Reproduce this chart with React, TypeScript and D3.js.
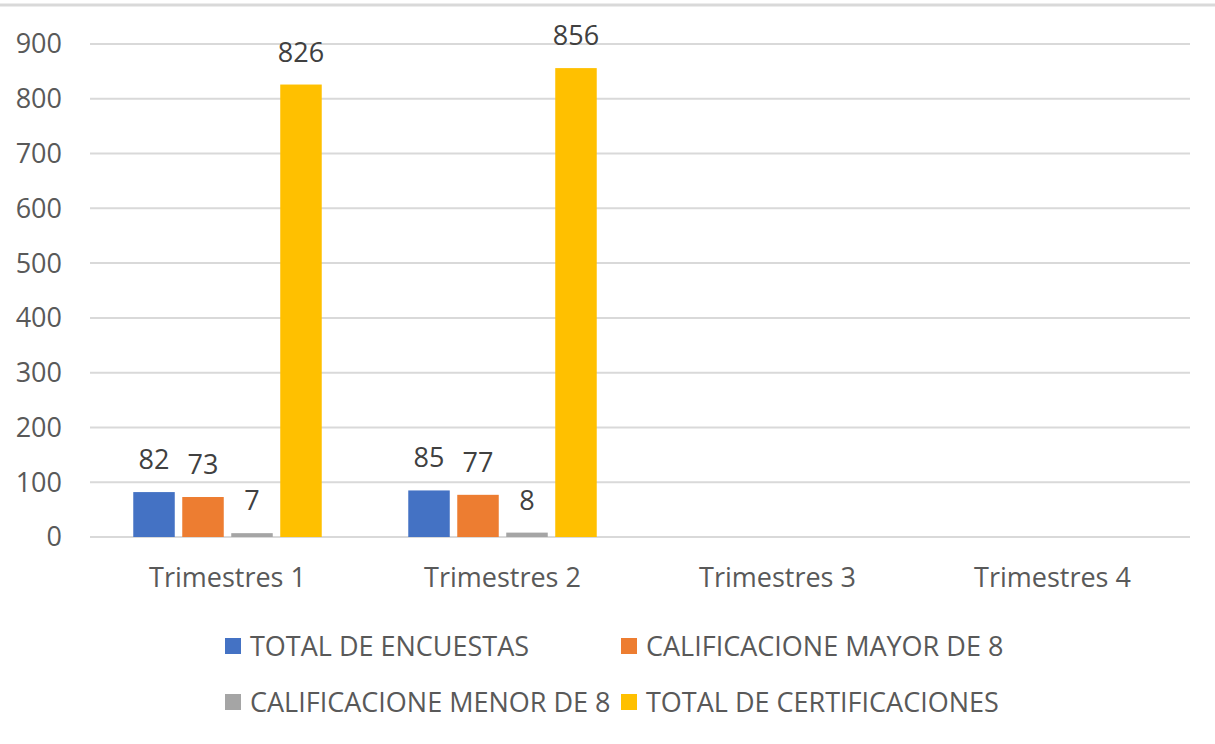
import React from "react";
import * as d3 from "d3";

const categories = ["Trimestres 1", "Trimestres 2", "Trimestres 3", "Trimestres 4"];
const seriesNames = [
  "TOTAL DE ENCUESTAS",
  "CALIFICACIONE MAYOR DE 8",
  "CALIFICACIONE MENOR DE 8",
  "TOTAL DE CERTIFICACIONES",
];
const totalEncuestas: (number | null)[] = [82, 85, null, null];
const mayorDe8: (number | null)[] = [73, 77, null, null];
const menorDe8: (number | null)[] = [7, 8, null, null];
const totalCertificaciones: (number | null)[] = [826, 856, null, null];
const yTicks = [0, 100, 200, 300, 400, 500, 600, 700, 800, 900];
const colors = ["#4472C4", "#ED7D31", "#A5A5A5", "#FFC000"];

const W = 1215;
const H = 744;
const plotL = 90;
const plotR = 1190;
const plotT = 44;
const plotB = 537;
const font = "'Open Sans', sans-serif";
const textColor = "#595959";

export default function App() {
  const series = [totalEncuestas, mayorDe8, menorDe8, totalCertificaciones];
  const x0 = d3.scaleBand().domain(categories).range([plotL, plotR]).paddingInner(0).paddingOuter(0);
  const x1 = d3
    .scaleBand<number>()
    .domain([0, 1, 2, 3])
    .range([0, x0.bandwidth()])
    .paddingInner(0.153)
    .paddingOuter(0.883);
  const y = d3.scaleLinear().domain([0, 900]).range([plotB, plotT]);

  const legendItems = [
    { i: 0, x: 225, y: 646 },
    { i: 1, x: 621, y: 646 },
    { i: 2, x: 225, y: 702 },
    { i: 3, x: 621, y: 702 },
  ];

  return (
    <svg width={W} height={H} style={{ position: "absolute", left: 0, top: 0, background: "#fff" }}>
      <rect x={0} y={0} width={W} height={H} fill="#fff" />
      <line x1={0} x2={W} y1={5} y2={5} stroke="#D9D9D9" strokeWidth={3} />
      {yTicks.map((t) => (
        <g key={t}>
          <line x1={plotL} x2={plotR} y1={y(t)} y2={y(t)} stroke="#D9D9D9" strokeWidth={2} />
          <text
            x={62}
            y={y(t)}
            dy="0.35em"
            textAnchor="end"
            fontFamily={font}
            fontSize={27}
            fill={textColor}
          >
            {t}
          </text>
        </g>
      ))}
      {categories.map((c, ci) => (
        <g key={c}>
          {series.map((s, si) => {
            const v = s[ci];
            if (v == null) return null;
            const bx = (x0(c) as number) + (x1(si) as number);
            const bw = x1.bandwidth();
            return (
              <g key={si}>
                <rect x={bx} y={y(v)} width={bw} height={plotB - y(v)} fill={colors[si]} />
                <text
                  x={bx + bw / 2}
                  y={y(v) - 23}
                  textAnchor="middle"
                  fontFamily={font}
                  fontSize={27}
                  fill="#404040"
                >
                  {v}
                </text>
              </g>
            );
          })}
          <text
            x={(x0(c) as number) + x0.bandwidth() / 2}
            y={587}
            textAnchor="middle"
            fontFamily={font}
            fontSize={27}
            fill={textColor}
          >
            {c}
          </text>
        </g>
      ))}
      {legendItems.map((l) => (
        <g key={l.i}>
          <rect x={l.x} y={l.y - 8} width={16} height={16} fill={colors[l.i]} />
          <text
            x={l.x + 25}
            y={l.y}
            dy="0.36em"
            fontFamily={font}
            fontSize={27}
            fill={textColor}
          >
            {seriesNames[l.i]}
          </text>
        </g>
      ))}
    </svg>
  );
}
